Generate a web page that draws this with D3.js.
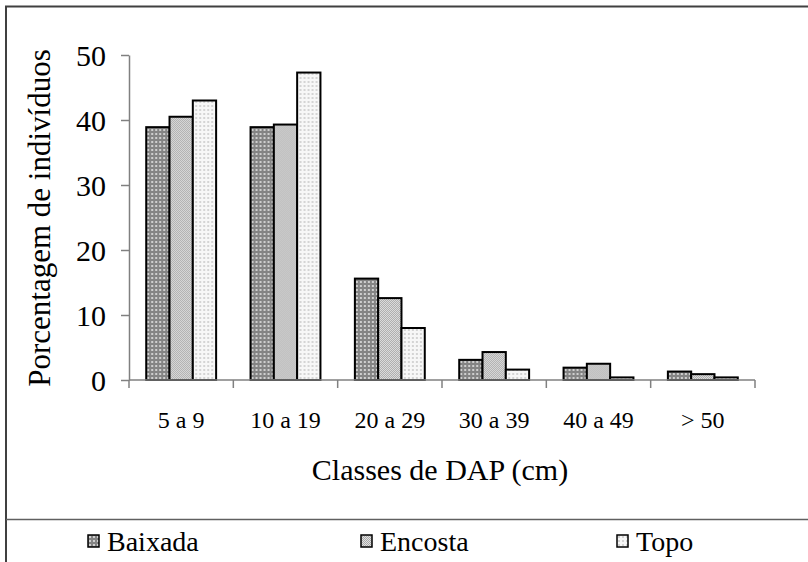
<!DOCTYPE html>
<html>
<head>
<meta charset="utf-8">
<script src="https://cdn.jsdelivr.net/npm/d3@7/dist/d3.min.js"></script>
<style>
  html, body { margin: 0; padding: 0; background: #fff; }
  svg { display: block; }
  text { font-family: 'Liberation Serif', 'Times New Roman', Times, serif; }
</style>
</head>
<body>
<svg id="chart" width="808" height="562"></svg>
<script>
// Diameter classes (DAP) and share of individuals per site position
const categories = ["5 a 9", "10 a 19", "20 a 29", "30 a 39", "40 a 49", "> 50"];
const seriesNames = ["Baixada", "Encosta", "Topo"];
const baixada = [38.9, 38.9, 15.6, 3.1, 1.9, 1.3];
const encosta = [40.5, 39.3, 12.6, 4.3, 2.5, 0.9];
const topo    = [43.0, 47.3, 8.0, 1.6, 0.4, 0.4];
const yTicks = [0, 10, 20, 30, 40, 50];

const seriesValues = [baixada, encosta, topo];
const FONT = "Liberation Serif";

const svg = d3.select("#chart").attr("font-family", FONT);

// Fill patterns for each series
const defs = svg.append("defs");
function pattern(id, bg, dot, size, dotSize) {
  const p = defs.append("pattern").attr("id", id)
    .attr("patternUnits", "userSpaceOnUse").attr("width", size).attr("height", size);
  p.append("rect").attr("width", size).attr("height", size).attr("fill", bg);
  p.append("rect").attr("x", 1).attr("y", 1).attr("width", dotSize).attr("height", dotSize).attr("fill", dot);
}
pattern("pat-baixada", "#848484", "#cfcfcf", 4, 2);
{
  const p = defs.append("pattern").attr("id", "pat-encosta")
    .attr("patternUnits", "userSpaceOnUse").attr("width", 2).attr("height", 2);
  p.append("rect").attr("width", 2).attr("height", 2).attr("fill", "#e2e2e2");
  p.append("rect").attr("width", 1).attr("height", 1).attr("fill", "#a8a8a8");
  p.append("rect").attr("x", 1).attr("y", 1).attr("width", 1).attr("height", 1).attr("fill", "#a8a8a8");
}
pattern("pat-topo", "#f7f7f7", "#d4d4d4", 4, 2);
const fills = ["url(#pat-baixada)", "url(#pat-encosta)", "url(#pat-topo)"];

// Outer frame and legend separator
svg.append("rect").attr("x", 6).attr("y", 6.5).attr("width", 820).attr("height", 570)
  .attr("fill", "none").attr("stroke", "#404040").attr("stroke-width", 2);
svg.append("line").attr("x1", 6).attr("x2", 808).attr("y1", 519.5).attr("y2", 519.5)
  .attr("stroke", "#606060").attr("stroke-width", 1.5);

// Scales
const x = d3.scaleBand().domain(categories).range([129, 755])
  .paddingInner(0.33).paddingOuter(0.165);
const xs = d3.scaleBand().domain(seriesNames).range([0, x.bandwidth()]);
const y = d3.scaleLinear().domain([0, 50]).range([380, 55]);

// Bars
const groups = svg.append("g").selectAll("g").data(categories).join("g")
  .attr("transform", c => `translate(${x(c)},0)`);
groups.selectAll("rect")
  .data((c, ci) => seriesNames.map((s, si) => ({ s, si, v: seriesValues[si][ci] })))
  .join("rect")
  .attr("x", d => xs(d.s))
  .attr("y", d => y(d.v))
  .attr("width", xs.bandwidth())
  .attr("height", d => y(0) - y(d.v))
  .attr("fill", d => fills[d.si])
  .attr("stroke", "#000").attr("stroke-width", 2);

// Y axis
const yAxis = svg.append("g").attr("transform", "translate(129,0)")
  .call(d3.axisLeft(y).tickValues(yTicks).tickSize(8).tickPadding(15).tickSizeOuter(0))
  .attr("font-family", FONT);
yAxis.select(".domain").attr("stroke", "#808080").attr("stroke-width", 1.5);
yAxis.selectAll(".tick line").attr("stroke", "#808080").attr("stroke-width", 1.5);
yAxis.selectAll(".tick text").attr("font-size", 30).attr("fill", "#000")
  .attr("dy", "0.36em").attr("font-family", FONT);

// X axis: tick marks at the class boundaries
const xAxisG = svg.append("g");
xAxisG.append("line").attr("x1", 129).attr("x2", 755).attr("y1", y(0)).attr("y2", y(0))
  .attr("stroke", "#808080").attr("stroke-width", 1.5);
const boundaries = categories.map(c => x(c) - x.step() * x.paddingInner() / 2)
  .concat([x(categories[categories.length - 1]) + x.bandwidth() + x.step() * x.paddingInner() / 2]);
xAxisG.selectAll("line.b").data(boundaries).join("line").attr("class", "b")
  .attr("x1", d => d).attr("x2", d => d).attr("y1", y(0)).attr("y2", y(0) + 8)
  .attr("stroke", "#808080").attr("stroke-width", 1.5);
xAxisG.selectAll("text").data(categories).join("text")
  .attr("x", c => x(c) + x.bandwidth() / 2).attr("y", 428)
  .attr("text-anchor", "middle").attr("font-size", 24).attr("fill", "#000")
  .attr("font-family", FONT)
  .text(c => c);

// Axis titles
svg.append("text").attr("x", 440).attr("y", 480).attr("text-anchor", "middle")
  .attr("font-family", FONT)
  .attr("font-size", 30).attr("fill", "#000").text("Classes de DAP (cm)");
svg.append("text").attr("transform", "translate(50,218) rotate(-90)")
  .attr("text-anchor", "middle").attr("font-size", 31).attr("fill", "#000")
  .attr("font-family", FONT)
  .text("Porcentagem de indivíduos");

// Legend
const legendX = [88, 361, 617];
const legend = svg.append("g").selectAll("g").data(seriesNames).join("g")
  .attr("transform", (d, i) => `translate(${legendX[i]},535)`);
legend.append("rect").attr("width", 11).attr("height", 12)
  .attr("fill", (d, i) => fills[i]).attr("stroke", "#000").attr("stroke-width", 1.5);
legend.append("text").attr("x", 19).attr("y", 15.5).attr("font-size", 28).attr("fill", "#000")
  .attr("font-family", FONT)
  .text(d => d);
</script>
</body>
</html>
